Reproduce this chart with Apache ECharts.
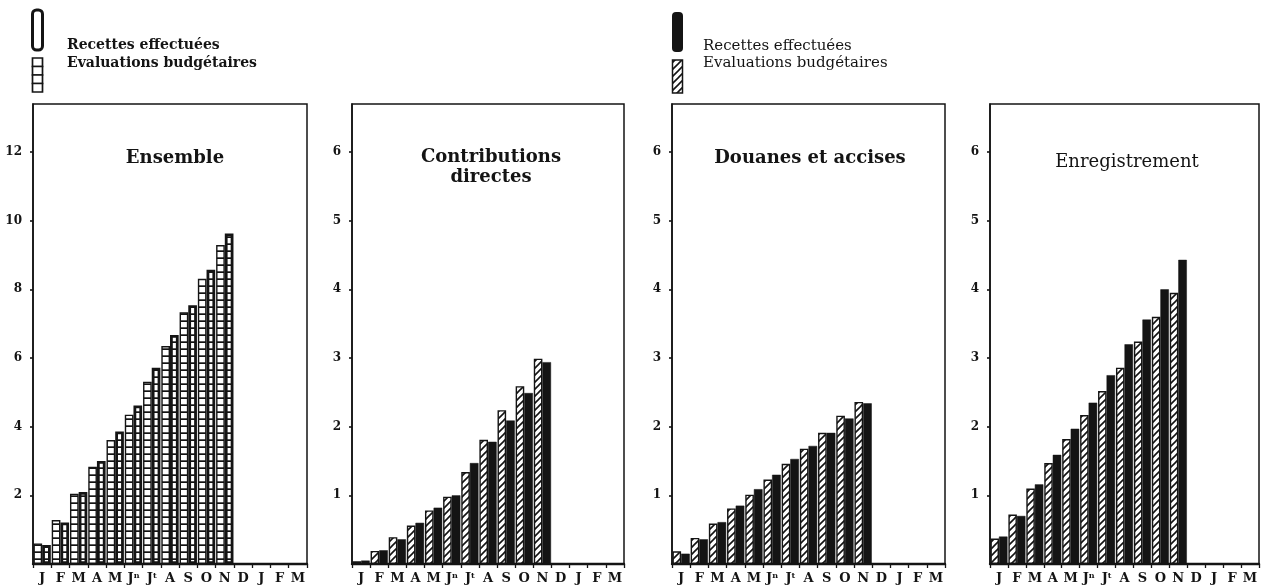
<!DOCTYPE html>
<html><head><meta charset="utf-8">
<script src="https://cdn.jsdelivr.net/npm/echarts@6/dist/echarts.min.js"></script>
<style>html,body{margin:0;padding:0;background:#fff}#c{width:1265px;height:588px}</style>
</head><body><div id="c"></div>
<script>
// ---- data ----
const months = ['J','F','M','A','M','Jn','Jt','A','S','O','N','D','J','F','M'];
const panelTitles = ['Ensemble','Contributions\ndirectes','Douanes et accises','Enregistrement'];
const seriesNames = ['Evaluations budgétaires','Recettes effectuées'];
const ensembleEval = [0.60,1.28,2.05,2.83,3.61,4.35,5.31,6.35,7.33,8.31,9.29];
const ensembleRec  = [0.55,1.21,2.10,3.00,3.86,4.62,5.72,6.67,7.54,8.57,9.63];
const contribEval  = [0.04,0.19,0.39,0.56,0.78,0.98,1.34,1.81,2.24,2.59,2.99];
const contribRec   = [0.05,0.20,0.36,0.60,0.82,1.00,1.47,1.78,2.09,2.49,2.94];
const douanesEval  = [0.185,0.38,0.59,0.81,1.01,1.23,1.46,1.68,1.91,2.16,2.36];
const douanesRec   = [0.15,0.36,0.61,0.85,1.09,1.30,1.53,1.72,1.91,2.12,2.34];
const enregEval    = [0.37,0.72,1.10,1.47,1.82,2.17,2.52,2.86,3.24,3.60,3.95];
const enregRec     = [0.40,0.70,1.16,1.59,1.97,2.35,2.75,3.20,3.56,4.00,4.43];
const yMax = [13.4, 6.7, 6.7, 6.7];
const yInterval = [2, 1, 1, 1];

// ---- patterns ----
const INK = '#141414';
function hatchCanvas(){
  const s = 7, c = document.createElement('canvas'); c.width = s; c.height = s;
  const g = c.getContext('2d');
  g.fillStyle = '#fff'; g.fillRect(0,0,s,s);
  g.strokeStyle = INK; g.lineWidth = 1.6; g.beginPath();
  g.moveTo(-1, s+1); g.lineTo(s+1, -1);
  g.moveTo(-1, 1); g.lineTo(1, -1);
  g.moveTo(s-1, s+1); g.lineTo(s+1, s-1);
  g.stroke();
  return c;
}
function gridCanvas(){
  const c = document.createElement('canvas'); c.width = 8; c.height = 7;
  const g = c.getContext('2d');
  g.fillStyle = '#fff'; g.fillRect(0,0,8,7);
  g.fillStyle = INK; g.fillRect(0,5.3,8,1.7);
  return c;
}
const hatch = {image: hatchCanvas(), repeat: 'repeat'};
const gridPat = {image: gridCanvas(), repeat: 'repeat'};

const FONT = '"DejaVu Serif", "Liberation Serif", serif';
const gridsPos = [
  {left: 33, width: 274},
  {left: 352, width: 272},
  {left: 672, width: 273},
  {left: 990, width: 269}
];
const grids = gridsPos.map(p => ({left: p.left, width: p.width, top: 104, height: 460,
  show: true, borderColor: INK, borderWidth: 1.5, backgroundColor: 'transparent'}));

const xAxes = gridsPos.map((p, i) => ({
  type: 'category', gridIndex: i, data: months, boundaryGap: true,
  axisLine: {lineStyle: {color: INK, width: 2.4}},
  axisTick: {show: true, length: 4, lineStyle: {color: INK, width: 1.3}},
  axisLabel: {interval: 0, margin: 8, color: INK,
    formatter: v => v.length > 1 ? '{m|' + v[0] + '}{s|' + v.slice(1) + '}' : '{m|' + v + '}',
    rich: {
      m: {fontFamily: FONT, fontWeight: 'bold', fontSize: 13, color: INK},
      s: {fontFamily: FONT, fontWeight: 'bold', fontSize: 8, color: INK, verticalAlign: 'top', padding: [0,0,6,0]}
    }
  }
}));
const yAxes = gridsPos.map((p, i) => ({
  type: 'value', gridIndex: i, min: 0, max: yMax[i], interval: yInterval[i],
  splitLine: {show: false},
  axisLine: {show: true, lineStyle: {color: INK, width: 1.6}},
  axisTick: {show: true, length: 3, lineStyle: {color: INK, width: 1.6}},
  axisLabel: {margin: 11, color: INK, fontFamily: FONT, fontWeight: 'bold', fontSize: 12,
    showMinLabel: false, showMaxLabel: false,
    formatter: v => (v > 0 && Math.abs(v - Math.round(v)) < 1e-9) ? String(v) : ''}
}));

const evalData = [ensembleEval, contribEval, douanesEval, enregEval];
const recData = [ensembleRec, contribRec, douanesRec, enregRec];
const series = [];
for (let i = 0; i < 4; i++) {
  const first = i === 0;
  series.push({
    name: seriesNames[0], type: 'bar', xAxisIndex: i, yAxisIndex: i, data: evalData[i],
    barGap: '0%', barCategoryGap: '5%',
    itemStyle: {color: first ? gridPat : hatch, borderColor: INK, borderWidth: 1.4}
  });
  series.push({
    name: seriesNames[1], type: 'bar', xAxisIndex: i, yAxisIndex: i, data: recData[i],
    barGap: '0%', barCategoryGap: '5%',
    itemStyle: first ? {color: gridPat, borderColor: INK, borderWidth: 2.8}
                     : {color: INK, borderColor: INK, borderWidth: 0.5}
  });
}

const titleX = [175, 491, 810, 1127];
const titleTop = [148, 147, 148, 152];
const titles = panelTitles.map((t, i) => ({
  text: t, left: titleX[i], top: titleTop[i], textAlign: 'center', padding: 0,
  textStyle: {fontFamily: FONT, fontWeight: i === 3 ? 'normal' : 'bold', fontSize: 18, color: INK, lineHeight: 20}
}));

const legendBoxes = [];
for (let k = 0; k < 4; k++) {
  legendBoxes.push({type: 'rect', shape: {x: 32.5, y: 58 + k * 8.5, width: 10, height: 8.5},
    style: {fill: '#fff', stroke: INK, lineWidth: 1.7}});
}
const graphic = [
  {type: 'rect', shape: {x: 32.5, y: 10, width: 10, height: 40, r: 4}, style: {fill: '#fff', stroke: INK, lineWidth: 3}},
  ...legendBoxes,
  {type: 'text', style: {text: 'Recettes effectuées', x: 67, y: 45, font: 'bold 14px ' + FONT, fill: INK, verticalAlign: 'middle'}},
  {type: 'text', style: {text: 'Evaluations budgétaires', x: 67, y: 63, font: 'bold 14px ' + FONT, fill: INK, verticalAlign: 'middle'}},
  {type: 'rect', shape: {x: 672, y: 12, width: 11, height: 40, r: 4}, style: {fill: INK}},
  {type: 'rect', shape: {x: 672.5, y: 60, width: 10, height: 33}, style: {fill: hatch, stroke: INK, lineWidth: 1.5}},
  {type: 'text', style: {text: 'Recettes effectuées', x: 703, y: 46, font: '15px ' + FONT, fill: INK, verticalAlign: 'middle'}},
  {type: 'text', style: {text: 'Evaluations budgétaires', x: 703, y: 63, font: '15px ' + FONT, fill: INK, verticalAlign: 'middle'}}
];

const chart = echarts.init(document.getElementById('c'), null, {renderer: 'canvas'});
chart.setOption({
  animation: false, backgroundColor: '#fff',
  title: titles, grid: grids, xAxis: xAxes, yAxis: yAxes, series: series, graphic: graphic
});
</script></body></html>
